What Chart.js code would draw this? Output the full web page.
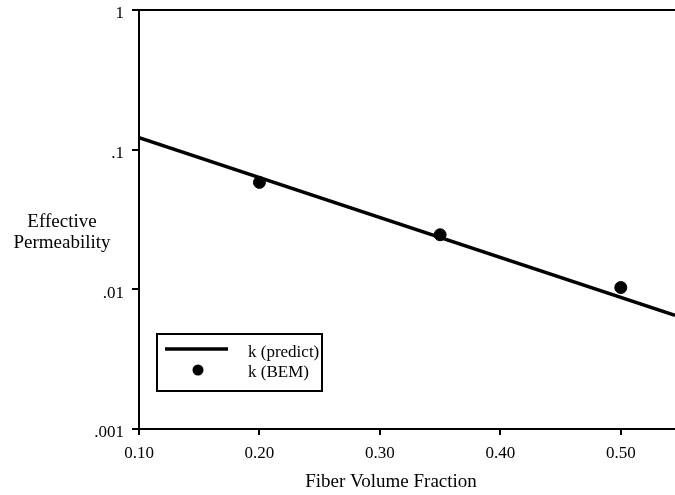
<!DOCTYPE html>
<html>
<head>
<meta charset="utf-8">
<script src="https://cdn.jsdelivr.net/npm/chart.js@4/dist/chart.umd.min.js"></script>
<style>
  html, body { margin: 0; padding: 0; background: #fff; }
  #wrap { width: 675px; height: 495px; }
</style>
</head>
<body>
<div id="wrap"><canvas id="chart" width="675" height="495"></canvas></div>
<script>
// Effective permeability vs fiber volume fraction (log scale)

const predictX = [0.10, 0.545];
const predictY = [0.122, 0.0065];
const bemX = [0.20, 0.35, 0.50];
const bemY = [0.0583, 0.0246, 0.0103];
const xTicks = [0.10, 0.20, 0.30, 0.40, 0.50];
const yTicks = [0.001, 0.01, 0.1, 1];
const yTickLabels = ['.001', '.01', '.1', '1'];
const yTitle = ['Effective', 'Permeability'];
const xTitle = 'Fiber Volume Fraction';

const serif = '"Liberation Serif", "DejaVu Serif", serif';

// Draws the top border, both axis titles and the boxed legend
const decorPlugin = {
    id: 'decor',
    afterDraw(chart) {
        const ctx = chart.ctx;
        const area = chart.chartArea;
        ctx.save();

        // top frame line
        ctx.strokeStyle = '#000';
        ctx.lineWidth = 2;
        ctx.beginPath();
        ctx.moveTo(area.left, area.top);
        ctx.lineTo(area.right, area.top);
        ctx.stroke();

        // y title, written horizontally left of the axis
        ctx.fillStyle = '#000';
        ctx.font = '19px ' + serif;
        ctx.textAlign = 'center';
        ctx.textBaseline = 'middle';
        ctx.fillText(yTitle[0], 62, 222);
        ctx.fillText(yTitle[1], 62, 243);

        // x title (sits a bit left of the plot centre in the original)
        ctx.fillText(xTitle, 391, 482);

        // legend box
        const bx = 157, by = 334, bw = 165, bh = 57;
        ctx.lineWidth = 2;
        ctx.strokeRect(bx, by, bw, bh);

        const ds = chart.data.datasets;
        ctx.lineWidth = 3.5;
        ctx.beginPath();
        ctx.moveTo(165, 349);
        ctx.lineTo(228, 349);
        ctx.stroke();

        ctx.beginPath();
        ctx.arc(198, 370, 5.5, 0, Math.PI * 2);
        ctx.fill();

        ctx.font = '17px ' + serif;
        ctx.textAlign = 'left';
        ctx.fillText(ds[0].label, 248, 353);
        ctx.fillText(ds[1].label, 248, 373);
        ctx.restore();
    }
};

new Chart(document.getElementById('chart'), {
    type: 'scatter',
    plugins: [decorPlugin],
    data: {
        datasets: [{
            label: 'k (predict)',
            data: predictX.map((x, i) => ({ x: x, y: predictY[i] })),
            showLine: true,
            borderColor: '#000',
            borderWidth: 3.5,
            pointRadius: 0,
            order: 2
        }, {
            label: 'k (BEM)',
            data: bemX.map((x, i) => ({ x: x, y: bemY[i] })),
            showLine: false,
            backgroundColor: '#000',
            borderColor: '#000',
            pointRadius: 6,
            order: 1
        }]
    },
    options: {
        responsive: false,
        animation: false,
        layout: { autoPadding: false, padding: { top: 10, right: 0, left: 0, bottom: 0 } },
        plugins: {
            legend: { display: false },
            tooltip: { enabled: false }
        },
        scales: {
            x: {
                type: 'linear',
                min: 0.10,
                max: 0.545,
                afterBuildTicks: (scale) => {
                    scale.ticks = xTicks.map(v => ({ value: v }));
                },
                afterFit: (scale) => {
                    scale.height = 66;
                    scale.paddingRight = 0;
                    scale.paddingLeft = 0;
                },
                border: { color: '#000', width: 2 },
                grid: { drawOnChartArea: false, color: '#000', lineWidth: 2, tickLength: 6 },
                ticks: {
                    color: '#000',
                    font: { family: serif, size: 17 },
                    padding: 8,
                    maxRotation: 0,
                    callback: (v) => Number(v).toFixed(2)
                }
            },
            y: {
                type: 'logarithmic',
                min: 0.001,
                max: 1,
                afterBuildTicks: (scale) => {
                    scale.ticks = yTicks.map(v => ({ value: v, major: true }));
                },
                afterFit: (scale) => {
                    scale.width = 139;
                    scale.paddingTop = 0;
                    scale.paddingBottom = 0;
                },
                border: { color: '#000', width: 2 },
                grid: { drawOnChartArea: false, color: '#000', lineWidth: 2, tickLength: 7 },
                ticks: {
                    color: '#000',
                    font: { family: serif, size: 17 },
                    padding: 8,
                    labelOffset: 4,
                    callback: (v) => {
                        const i = yTicks.indexOf(v);
                        return i >= 0 ? yTickLabels[i] : '';
                    }
                }
            }
        }
    }
});
</script>
</body>
</html>
